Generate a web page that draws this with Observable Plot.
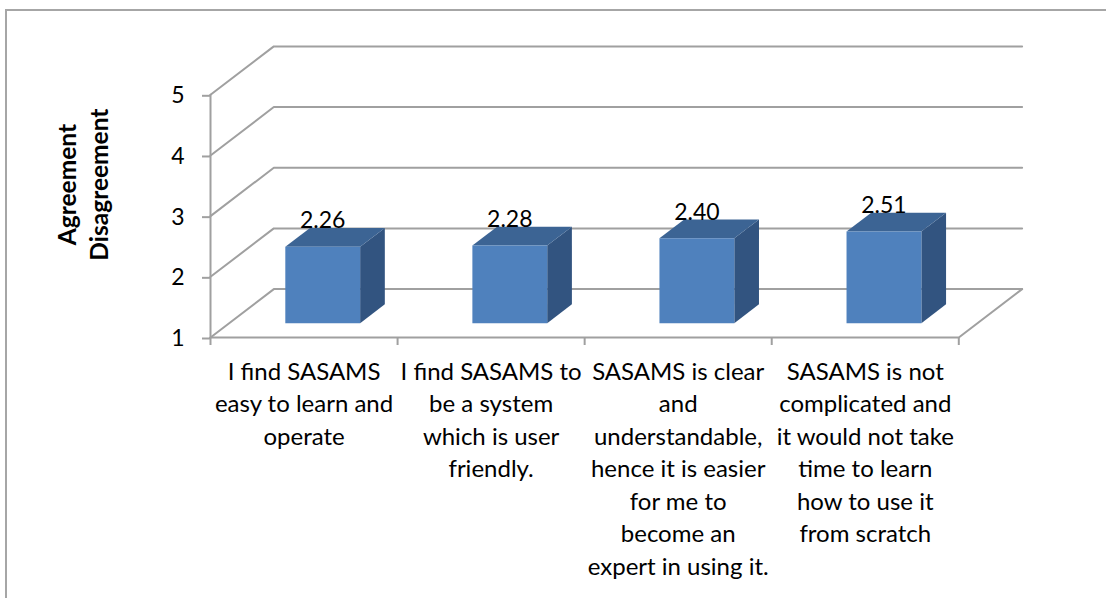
<!DOCTYPE html>
<html>
<head>
<meta charset="utf-8">
<script src="https://cdn.jsdelivr.net/npm/d3@7"></script>
<script src="https://cdn.jsdelivr.net/npm/@observablehq/plot@0.6"></script>
<style>
html,body{margin:0;padding:0;background:#fff;overflow:hidden}
#chart{position:relative;width:1106px;height:598px}
#chart svg{position:absolute;left:0;top:0;display:block}
#frame{position:absolute;left:5px;top:9px;right:-4px;bottom:-4px;border-left:2px solid #a6a6a6;border-top:2px solid #a6a6a6}
</style>
</head>
<body>
<div id="chart"><div id="frame"></div></div>
<script>
const categories = [
  "I find SASAMS\neasy to learn and\noperate",
  "I find SASAMS to\nbe a system\nwhich is user\nfriendly.",
  "SASAMS is clear\nand\nunderstandable,\nhence it is easier\nfor me to\nbecome an\nexpert in using it.",
  "SASAMS is not\ncomplicated and\nit would not take\ntime to learn\nhow to use it\nfrom scratch"
];
const values = [2.26, 2.28, 2.40, 2.51];
const yTicks = [1, 2, 3, 4, 5];
const axisTitle = "Agreement\nDisagreement";

const font = "Lato, Carlito, Calibri, sans-serif";
const gray = "#a0a0a0";
// Oblique projection of the 3-D column chart, in data units per unit of depth
const depthX = 0.3385, depthY = 0.798;
const barHalf = 0.2, depthFront = 0.295, depthBack = 0.685;

const project = (x, y, d) => ({x: x + d * depthX, y: y + d * depthY});
const path = (id, pts) => pts.map(([x, y, d]) => ({id, ...project(x, y, d)}));

const wall = yTicks.flatMap(v => path("w" + v, [[0, v, 0], [0, v, 1], [4, v, 1]]));
const floor = path("floor", [[0, 1, 0], [4, 1, 0], [4, 1, 1]]);
const spine = path("spine", [[0, 1, 0], [0, 5, 0]]);

const fronts = [], tops = [], sides = [];
values.forEach((v, i) => {
  const l = i + 0.5 - barHalf, r = i + 0.5 + barHalf;
  fronts.push(...path("f" + i, [[l, 1, depthFront], [r, 1, depthFront], [r, v, depthFront], [l, v, depthFront], [l, 1, depthFront]]));
  tops.push(...path("t" + i, [[l, v, depthFront], [r, v, depthFront], [r, v, depthBack], [l, v, depthBack], [l, v, depthFront]]));
  sides.push(...path("s" + i, [[r, 1, depthFront], [r, 1, depthBack], [r, v, depthBack], [r, v, depthFront], [r, 1, depthFront]]));
});
const labels = values.map((v, i) => ({...project(i + 0.5, v, depthFront), v}));
const cats = categories.map((c, i) => ({x: i + 0.5, c}));

const face = (rows, color) => Plot.line(rows, {x: "x", y: "y", z: "id", fill: color, stroke: "none"});

const plot = Plot.plot({
  width: 1106,
  height: 598,
  marginLeft: 210,
  marginRight: 147.7,
  marginTop: 94.3,
  marginBottom: 261,
  style: {background: "transparent", fontFamily: font, color: "#000"},
  x: {domain: [0, 4]},
  y: {domain: [1, 5]},
  marks: [
    Plot.line(wall, {x: "x", y: "y", z: "id", stroke: gray, strokeWidth: 2}),
    Plot.line(floor, {x: "x", y: "y", z: "id", stroke: gray, strokeWidth: 2}),
    Plot.line(spine, {x: "x", y: "y", z: "id", stroke: gray, strokeWidth: 2}),
    Plot.axisY({ticks: yTicks, tickSize: 8, tickPadding: 18, stroke: gray, strokeWidth: 2, color: "#000", fontSize: 23, label: null, tickFormat: d3.format("d"), dy: 1}),
    Plot.axisX({ticks: [0, 1, 2, 3, 4], tickSize: 8, stroke: gray, strokeWidth: 2, tickFormat: () => "", label: null}),
    face(sides, "#325480"),
    face(tops, "#3c6494"),
    face(fronts, "#4f81bd"),
    Plot.text(labels, {x: "x", y: "y", text: d => d.v.toFixed(2), dy: -26, fontSize: 23, fill: "#000", lineAnchor: "middle"}),
    Plot.text(cats, {x: "x", y: () => 1, text: "c", lineAnchor: "top", dy: 19, fontSize: 24, lineHeight: 1.354, fill: "#000"}),
    Plot.text([axisTitle], {frameAnchor: "left", y: () => 3.52, dx: -128.5, rotate: -90, fontSize: 24.5, fontWeight: "bold", lineHeight: 1.31, lineAnchor: "middle", textAnchor: "middle", fill: "#000"})
  ]
});
document.getElementById("chart").appendChild(plot);
</script>
</body>
</html>
